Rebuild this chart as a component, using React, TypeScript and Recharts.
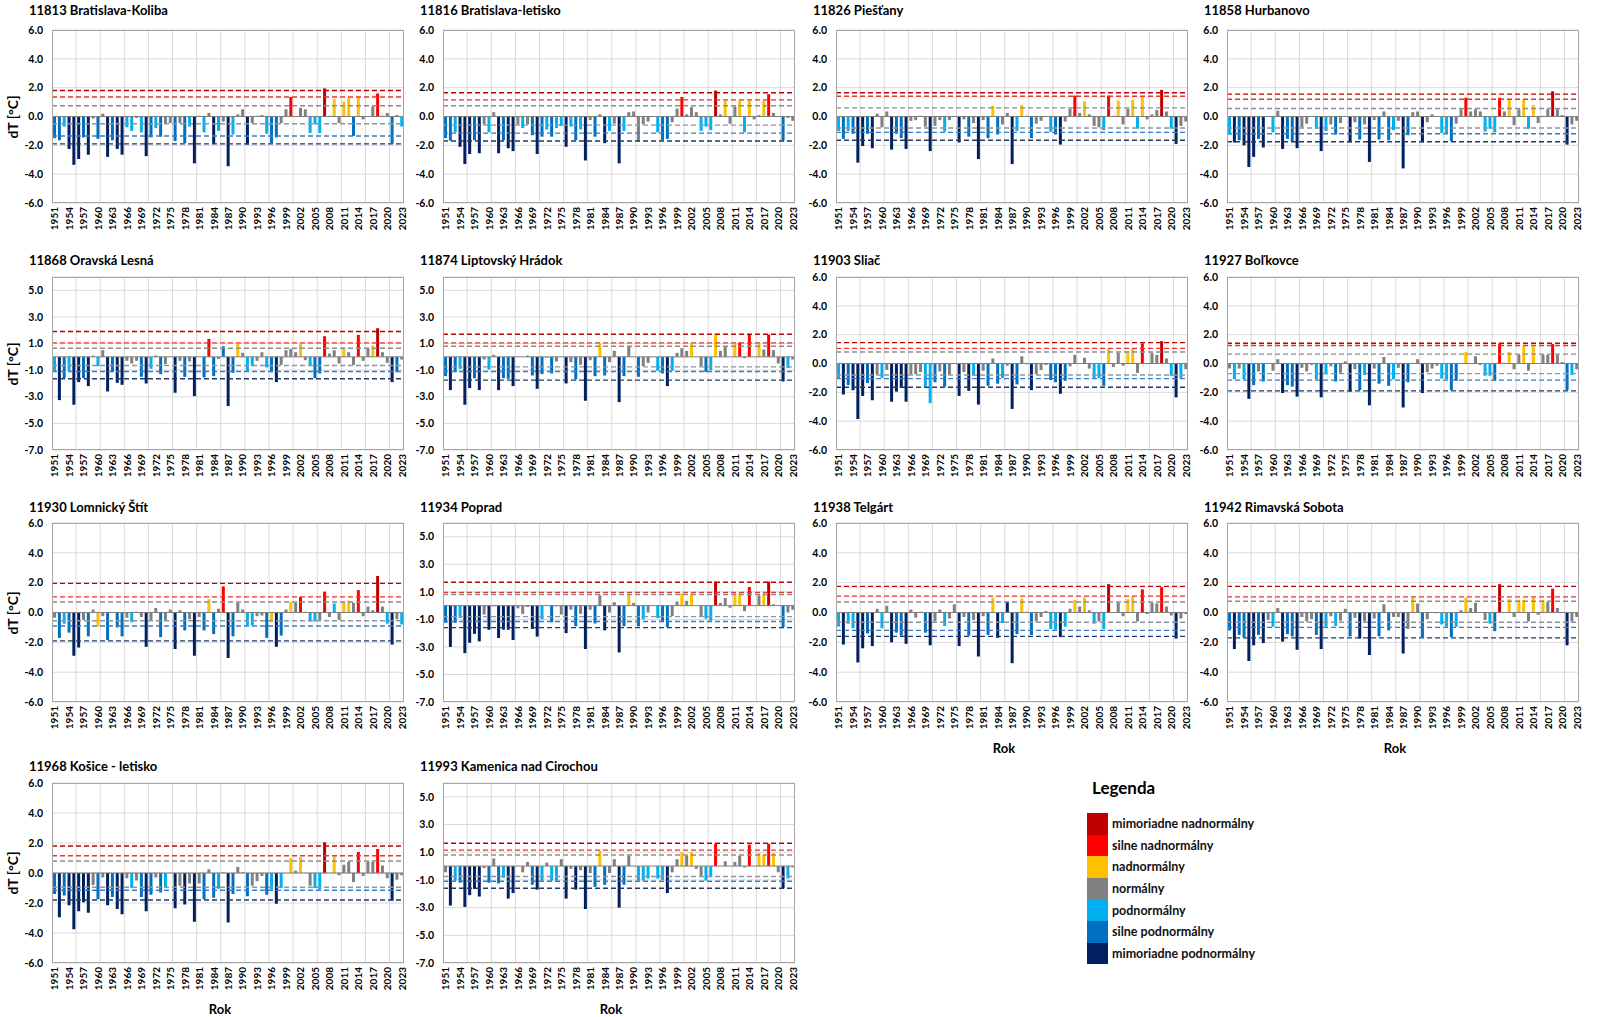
import React from "react"
import { Bar, BarChart, CartesianGrid, Cell, ReferenceLine, XAxis, YAxis } from "recharts"

const FONT = "Lato, 'Liberation Sans', sans-serif"

const years = Array.from({ length: 73 }, (_, i) => 1951 + i)
const yAxisTicks = [-6, -4, -2, 0, 2, 4, 6]
const yAxisTicksOdd = [-7, -5, -3, -1, 1, 3, 5]

type Cat = "X" | "S" | "A" | "N" | "L" | "B" | "E"

const COLORS: Record<Cat, string> = {
  X: "#c00000",
  S: "#ff0000",
  A: "#ffc000",
  N: "#808080",
  L: "#00b0f0",
  B: "#0070c0",
  E: "#002060",
}

const legendItems: { cat: Cat; label: string }[] = [
  { cat: "X", label: "mimoriadne nadnormálny" },
  { cat: "S", label: "silne nadnormálny" },
  { cat: "A", label: "nadnormálny" },
  { cat: "N", label: "normálny" },
  { cat: "L", label: "podnormálny" },
  { cat: "B", label: "silne podnormálny" },
  { cat: "E", label: "mimoriadne podnormálny" },
]

// dashed threshold line colours, top to bottom
const LINE_COLORS = ["#c00000", "#e8352b", "#8c8c8c", "#8c96a0", "#3a7cc4", "#1f3a6a"]

// values 1951..2023
const kolibaDT = [
  -1.5, -1.65, -0.7, -2.25, -3.35, -2.95, -1.45, -2.65, -0.15, -1.55,
  0.2, -2.8, -1.65, -2.25, -2.65, -0.75, -1.0, -0.1, -1.1, -2.75,
  -1.45, -0.8, -1.4, -0.45, -0.45, -1.7, -0.45, -1.85, -0.7, -3.25,
  0.05, -1.1, 0.25, -1.9, -1.0, -0.35, -3.45, -1.25, 0.15, 0.5,
  -1.95, -0.45, 0.05, 0.1, -1.2, -1.85, -1.45, -0.45, 0.5, 1.35,
  0.0, 0.6, 0.5, -1.15, -0.55, -1.15, 1.95, 0.05, 1.2, -0.45,
  1.05, 1.3, -1.35, 1.3, -0.2, 0.0, 0.7, 1.6, 0.05, 0.25,
  -1.88, 0.1, -0.7,
]
const kolibaTh = [1.8, 1.35, 0.75, -0.5, -1.35, -1.9]

const letiskoDT = [
  -1.5, -1.68, -1.1, -2.1, -3.3, -2.6, -1.65, -2.55, -0.55, -1.1,
  0.3, -2.55, -1.65, -2.2, -2.4, -0.55, -0.8, -0.55, -1.3, -2.6,
  -1.4, -0.9, -1.4, -0.8, -0.65, -2.1, -0.7, -1.65, -0.9, -3.05,
  -0.25, -1.4, 0.15, -1.85, -1.0, -0.5, -3.25, -1.0, 0.3, 0.35,
  -1.75, -0.55, -0.35, 0.0, -1.1, -1.65, -1.55, -0.4, 0.55, 1.35,
  0.15, 0.65, 0.3, -1.0, -0.7, -0.95, 1.8, 0.15, 1.1, -0.5,
  0.7, 1.1, -1.1, 1.1, -0.2, 0.1, 1.1, 1.55, 0.25, 0.0,
  -1.68, -0.1, -0.3,
]
const letiskoTh = [1.65, 1.15, 0.75, -0.6, -1.15, -1.7]

const piestanyDT = [
  -1.0, -1.55, -1.0, -1.2, -3.2, -2.05, -1.2, -2.2, 0.2, -0.75,
  0.35, -2.3, -1.2, -1.5, -2.25, -0.3, -0.25, 0.05, -0.7, -2.4,
  -0.65, -0.25, -1.05, -0.25, 0.0, -1.8, -0.2, -1.4, -0.45, -2.95,
  -0.25, -1.5, 0.75, -1.25, -0.55, 0.25, -3.3, -1.0, 0.8, 0.05,
  -1.5, -0.5, -0.3, 0.0, -1.05, -1.25, -1.95, -0.35, 0.55, 1.45,
  0.25, 1.05, 0.15, -0.65, -0.75, -0.95, 1.45, 0.05, 1.1, -0.55,
  0.55, 1.15, -0.85, 1.35, -0.2, 0.15, 0.45, 1.85, 0.35, -0.85,
  -1.9, -0.65, -0.35,
]
const piestanyTh = [1.65, 1.4, 0.6, -0.8, -1.1, -1.65]

const hurbanovoDT = [
  -1.15, -1.8, -1.65, -2.0, -3.5, -2.8, -1.55, -2.15, 0.0, -1.1,
  0.4, -2.25, -1.55, -1.7, -2.2, -0.75, -0.5, 0.0, -0.85, -2.4,
  -1.0, -0.55, -1.25, -0.45, 0.0, -1.8, -0.4, -1.6, -0.55, -3.15,
  -0.25, -1.6, 0.35, -1.65, -0.95, -0.3, -3.6, -1.3, 0.3, 0.35,
  -1.8, -0.4, 0.15, 0.0, -1.15, -1.15, -1.7, -0.5, 0.5, 1.3,
  0.35, 0.5, 0.35, -1.05, -0.85, -1.1, 1.3, 0.35, 1.15, -0.6,
  0.5, 1.15, -0.85, 0.8, -0.45, 0.05, 0.5, 1.75, 0.5, 0.1,
  -1.95, -0.55, -0.3,
]
const hurbanovoTh = [1.55, 1.2, 0.55, -0.8, -1.2, -1.75]

const oravskaDT = [
  -1.05, -3.25, -1.6, -1.05, -3.6, -1.9, -1.6, -2.2, 0.1, -0.7,
  0.5, -2.6, -1.15, -1.95, -2.1, -0.3, -0.5, -0.3, -1.5, -2.0,
  -0.9, 0.1, -1.3, -0.55, 0.0, -2.7, -0.3, -1.5, -0.35, -2.95,
  0.0, -1.55, 1.35, -1.45, -0.15, 0.8, -3.7, -1.2, 1.0, 0.3,
  -1.05, -0.7, -0.3, 0.35, -0.8, -1.15, -1.9, -0.6, 0.5, 0.6,
  0.35, 1.0, -0.25, -0.7, -1.6, -1.25, 1.55, 0.25, 0.5, -0.5,
  0.7, 0.35, -0.6, 1.65, -0.3, 0.6, 0.85, 2.15, 0.35, -0.45,
  -1.9, -1.15, -0.2,
]
const oravskaTh = [1.9, 1.05, 0.65, -0.65, -1.1, -1.65]

const liptovskyDT = [
  -1.45, -2.5, -1.15, -0.9, -3.6, -2.35, -1.6, -2.5, -0.2, -0.95,
  0.15, -2.5, -1.6, -1.65, -2.2, 0.0, 0.0, 0.1, -1.4, -2.4,
  -1.3, -0.05, -1.25, -0.35, 0.0, -2.0, -0.4, -1.7, -0.6, -3.3,
  -0.25, -1.45, 1.0, -1.4, -0.4, 0.45, -3.4, -1.45, 0.75, 0.0,
  -1.5, -0.7, -0.45, 0.0, -1.05, -1.25, -2.2, -1.05, 0.3, 0.65,
  0.45, 1.0, 0.0, -0.7, -1.15, -1.0, 1.75, 0.45, 0.75, 0.0,
  1.0, 1.08, -0.1, 1.65, 0.0, 1.0, 0.55, 1.68, 0.5, -0.5,
  -1.85, -0.85, -0.2,
]
const liptovskyTh = [1.7, 1.05, 0.8, -0.75, -1.1, -1.75]

const sliacDT = [
  -1.0, -2.15, -1.5, -1.85, -3.85, -2.25, -1.35, -2.55, -0.75, -1.0,
  -0.45, -2.65, -1.95, -1.7, -2.65, -0.75, -0.75, -0.6, -1.6, -2.75,
  -1.3, -0.55, -1.6, -0.75, 0.0, -2.25, -0.6, -1.9, -0.85, -2.85,
  -0.5, -1.55, 0.35, -1.4, -1.0, -0.15, -3.15, -1.45, 0.5, -0.05,
  -1.85, -0.75, -0.45, -0.1, -1.15, -1.3, -2.1, -1.2, -0.2, 0.6,
  0.0, 0.4, -0.35, -1.0, -1.0, -1.55, 1.0, -0.25, 0.75, -0.15,
  0.85, 1.0, -0.65, 1.4, 0.0, 0.75, 0.6, 1.55, 0.35, -0.85,
  -2.35, -1.0, -0.4,
]
const sliacTh = [1.45, 1.05, 0.8, -0.8, -1.05, -1.65]

const bolkovceDT = [
  -0.35, -1.1, -0.35, -1.1, -2.45, -1.5, -0.55, -1.25, 0.0, -0.5,
  0.3, -2.05, -1.5, -1.6, -2.3, -0.3, -0.55, -0.1, -1.1, -2.35,
  -0.75, -0.2, -1.25, -0.65, 0.15, -1.95, -0.4, -1.85, -0.8, -2.9,
  -0.35, -1.4, 0.45, -1.55, -1.1, -0.3, -3.05, -1.3, 0.0, 0.3,
  -2.05, -0.6, -0.35, -0.15, -1.05, -1.1, -1.85, -1.2, 0.0, 0.8,
  0.0, 0.5, -0.1, -0.85, -0.85, -1.2, 1.38, 0.05, 0.8, -0.4,
  0.6, 1.2, -0.5, 1.2, 0.0, 0.6, 0.6, 1.35, 0.6, 0.1,
  -1.85, -0.8, -0.4,
]
const bolkovceTh = [1.4, 1.25, 0.65, -0.7, -1.15, -1.9]

const lomnickyDT = [
  -0.35, -1.7, -0.75, -1.35, -2.9, -2.35, -0.5, -1.6, 0.2, -0.95,
  -0.25, -1.85, 0.0, -1.0, -1.6, -0.35, -0.65, 0.05, -0.3, -2.3,
  -0.5, 0.3, -1.65, -0.5, 0.2, -2.45, 0.15, -1.2, -0.45, -2.9,
  -0.3, -1.2, 0.9, -1.45, 0.25, 1.75, -3.05, -1.6, 0.65, 0.2,
  -0.85, -0.85, -0.25, -0.2, -1.7, -0.65, -2.3, -1.55, 0.2, 0.7,
  0.65, 1.05, 0.05, -0.6, -0.6, -0.5, 1.4, -0.3, 0.6, -0.5,
  0.75, 0.8, 0.65, 1.5, -0.25, 0.4, 0.15, 2.45, 0.4, -0.75,
  -2.15, -0.45, -0.8,
]
const lomnickyTh = [1.95, 1.05, 0.7, -0.55, -0.9, -1.9]

const popradDT = [
  -1.25, -3.0, -1.25, -0.9, -3.45, -2.7, -2.05, -2.6, -0.65, -1.75,
  -0.05, -2.35, -1.75, -1.75, -2.5, -0.2, -0.6, -0.1, -1.7, -2.25,
  -1.0, 0.05, -1.2, -0.05, -0.65, -2.0, -0.3, -1.5, -0.6, -3.15,
  -0.3, -1.3, 0.75, -1.8, -0.5, 0.25, -3.4, -1.5, 0.85, 0.2,
  -1.5, -1.0, -0.5, 0.0, -0.9, -1.2, -1.55, -0.75, 0.3, 0.9,
  0.35, 0.9, 0.0, -0.75, -0.95, -1.1, 1.75, 0.2, 0.55, -0.15,
  0.9, 0.9, -0.4, 1.35, 0.0, 0.75, 0.9, 1.75, 0.1, 0.0,
  -1.55, -0.5, -0.3,
]
const popradTh = [1.7, 0.95, 0.8, -0.8, -1.15, -1.6]

const telgartDT = [
  -0.95, -2.15, -0.75, -1.05, -3.35, -2.4, -1.4, -2.25, 0.25, -1.05,
  0.45, -2.0, -1.35, -1.55, -2.1, 0.2, -0.35, 0.05, -1.35, -2.2,
  -0.6, 0.2, -0.9, -0.4, 0.55, -2.25, -0.3, -1.55, -0.5, -2.95,
  -0.25, -1.5, 1.0, -1.7, -0.7, 0.75, -3.4, -1.45, 0.95, 0.05,
  -1.5, -0.6, -0.3, 0.1, -1.1, -1.15, -1.65, -0.95, 0.25, 0.85,
  0.4, 1.0, 0.15, -0.75, -0.6, -1.1, 1.9, 0.0, 0.65, -0.25,
  0.9, 1.05, -0.6, 1.55, -0.1, 0.65, 0.6, 1.7, 0.4, -0.2,
  -1.75, -0.4, -0.1,
]
const telgartTh = [1.75, 1.1, 0.7, -0.65, -1.2, -1.6]

const rimavskaDT = [
  -1.2, -2.45, -1.5, -1.65, -3.25, -2.2, -1.5, -2.05, -0.5, -0.95,
  0.3, -1.95, -1.45, -1.6, -2.5, -0.3, -0.6, -0.45, -1.5, -2.45,
  -0.95, -0.25, -0.9, -0.55, 0.25, -1.6, -0.35, -1.75, -0.6, -2.85,
  -0.4, -1.6, 0.55, -1.2, -0.3, -0.3, -2.75, -1.1, 1.0, 0.6,
  -1.65, -0.45, 0.0, -0.05, -0.8, -0.95, -1.65, -0.95, 0.15, 1.0,
  0.3, 0.65, 0.0, -0.5, -0.75, -1.25, 1.9, 0.0, 0.9, -0.3,
  0.85, 0.85, -0.6, 1.0, -0.15, 0.85, 0.7, 1.6, 0.3, 0.0,
  -2.2, -0.6, -0.3,
]
const rimavskaTh = [1.75, 1.05, 0.75, -0.65, -1.0, -1.7]

const kosiceDT = [
  -1.4, -2.95, -1.5, -2.15, -3.75, -2.55, -1.95, -2.65, -0.8, -1.75,
  -0.3, -2.15, -1.6, -2.4, -2.75, -0.35, -1.0, -0.5, -1.6, -2.55,
  -1.45, -0.3, -1.3, -1.0, 0.0, -2.35, -0.85, -2.1, -0.7, -3.25,
  -0.7, -1.75, 0.25, -1.65, -1.05, 0.05, -3.3, -1.4, 0.4, 0.05,
  -1.55, -0.85, -0.55, -0.2, -1.45, -1.1, -2.05, -1.0, 0.0, 1.0,
  0.15, 1.05, 0.0, -0.85, -1.0, -1.1, 2.05, 0.0, 1.1, -0.15,
  0.55, 0.75, -0.6, 1.4, -0.2, 0.75, 0.75, 1.6, 0.5, -0.35,
  -1.85, -0.45, -0.15,
]
const kosiceTh = [1.8, 1.15, 0.8, -0.95, -1.15, -1.8]

const kamenicaDT = [
  -0.45, -2.85, -1.05, -1.2, -2.95, -2.1, -1.65, -2.2, -0.15, -1.2,
  0.55, -1.25, -0.85, -2.35, -1.95, 0.0, -0.45, 0.3, -1.35, -1.7,
  -1.05, 0.25, -1.05, -1.05, 0.5, -2.35, -0.2, -1.7, -0.3, -3.1,
  -0.5, -1.5, 1.1, -1.35, -0.5, 0.5, -3.0, -1.35, 0.75, 0.0,
  -1.05, -1.05, -0.9, 0.0, -0.9, -1.0, -1.95, -0.45, 0.5, 1.0,
  0.75, 1.0, -0.2, -0.7, -1.05, -0.8, 1.6, 0.0, 0.35, 0.0,
  0.3, 0.75, -0.1, 1.55, 0.0, 0.95, 0.85, 1.62, 0.95, -0.45,
  -1.6, -0.9, -0.1,
]
const kamenicaTh = [1.65, 1.15, 0.8, -0.75, -1.1, -1.6]

type Station = {
  title: string
  values: number[]
  th: number[]
  odd?: boolean
  overrides?: Record<number, Cat>
}

const stations: Station[] = [
  { title: "11813 Bratislava-Koliba", values: kolibaDT, th: kolibaTh },
  { title: "11816 Bratislava-letisko", values: letiskoDT, th: letiskoTh, overrides: { 1991: "N" } },
  { title: "11826 Piešťany", values: piestanyDT, th: piestanyTh },
  { title: "11858 Hurbanovo", values: hurbanovoDT, th: hurbanovoTh },
  { title: "11868 Oravská Lesná", values: oravskaDT, th: oravskaTh, odd: true, overrides: { 1986: "B" } },
  { title: "11874 Liptovský Hrádok", values: liptovskyDT, th: liptovskyTh, odd: true, overrides: { 2007: "A" } },
  { title: "11903 Sliač", values: sliacDT, th: sliacTh, overrides: { 1969: "L", 1970: "L" } },
  { title: "11927 Boľkovce", values: bolkovceDT, th: bolkovceTh },
  { title: "11930 Lomnický Štít", values: lomnickyDT, th: lomnickyTh, overrides: { 1960: "A", 1996: "A", 2009: "L" } },
  { title: "11934 Poprad", values: popradDT, th: popradTh, odd: true },
  { title: "11938 Telgárt", values: telgartDT, th: telgartTh, overrides: { 1986: "E" } },
  { title: "11942 Rimavská Sobota", values: rimavskaDT, th: rimavskaTh, overrides: { 1988: "N" } },
  { title: "11968 Košice - letisko", values: kosiceDT, th: kosiceTh },
  { title: "11993 Kamenica nad Cirochou", values: kamenicaDT, th: kamenicaTh, odd: true },
]

function classify(v: number, th: number[]): Cat {
  if (v >= th[0]) return "X"
  if (v >= th[1]) return "S"
  if (v >= th[2]) return "A"
  if (v > th[3]) return "N"
  if (v > th[4]) return "L"
  if (v > th[5]) return "B"
  return "E"
}

// layout
const COL_LEFT = [52, 443, 836, 1227]
const ROWS = [
  { titleY: 10, top: 30, h: 173 },
  { titleY: 260, top: 277, h: 173 },
  { titleY: 507, top: 523, h: 179 },
  { titleY: 766, top: 783, h: 180 },
]
const PLOT_W = 352
const Y_W = 46
const M_TOP = 8
const X_H = 34
const gridSteps = Array.from({ length: 14 }, (_, i) => (i + 1) * 5)

function YearTick({ x, y, payload }: any) {
  return (
    <text
      x={x}
      y={y}
      transform={`rotate(-90 ${x} ${y})`}
      textAnchor="end"
      dominantBaseline="central"
      fontSize={10}
      fontWeight="bold"
      fontFamily={FONT}
      fill="#000"
    >
      {payload.value}
    </text>
  )
}

function Panel({ st, left, row, yLabel, xLabel }: { st: Station; left: number; row: (typeof ROWS)[number]; yLabel?: boolean; xLabel?: boolean }) {
  const data = years.map((year, i) => {
    const v = st.values[i]
    return { year, v, cat: st.overrides?.[year] ?? classify(v, st.th) }
  })
  const h = row.h
  return (
    <>
      <div style={{ position: "absolute", left: left - 23, top: row.titleY - 9, fontFamily: FONT, fontWeight: "bold", fontSize: 13, whiteSpace: "nowrap", lineHeight: "18px" }}>
        {st.title}
      </div>
      <div style={{ position: "absolute", left: left - Y_W, top: row.top - M_TOP }}>
        <BarChart
          width={Y_W + PLOT_W + 6}
          height={M_TOP + h + X_H}
          data={data}
          margin={{ top: M_TOP, right: 6, bottom: 0, left: 0 }}
          barCategoryGap="22%"
        >
          <CartesianGrid
            stroke="#d9d9d9"
            verticalCoordinatesGenerator={() => gridSteps.map((k) => Y_W + (k * PLOT_W) / years.length)}
          />
          <XAxis dataKey="year" interval={2} tickLine={false} axisLine={false} height={X_H} tickSize={2} tickMargin={2} tick={<YearTick />} />
          <YAxis
            domain={st.odd ? [-7, 6] : [-6, 6]}
            ticks={st.odd ? yAxisTicksOdd : yAxisTicks}
            interval={0}
            width={Y_W}
            allowDataOverflow
            tickLine={false}
            axisLine={false}
            tickSize={6}
            tickMargin={3}
            tickFormatter={(v: number) => v.toFixed(1)}
            tick={{ fontSize: 10.5, fontWeight: "bold", fill: "#000", fontFamily: FONT }}
          />
          <ReferenceLine y={0} stroke="#7f7f7f" />
          <Bar dataKey="v" isAnimationActive={false}>
            {data.map((d) => (
              <Cell key={d.year} fill={COLORS[d.cat]} />
            ))}
          </Bar>
          {st.th.map((t, i) => (
            <ReferenceLine key={i} y={t} stroke={LINE_COLORS[i]} strokeDasharray="5 3" strokeWidth={1.4} />
          ))}
        </BarChart>
      </div>
      <div style={{ position: "absolute", left, top: row.top, width: PLOT_W, height: h, border: "1px solid #a6a6a6", boxSizing: "border-box", pointerEvents: "none" }} />
      {yLabel && (
        <div style={{ position: "absolute", left: 13 - 40, top: row.top + h / 2 - 9, width: 80, textAlign: "center", transform: "rotate(-90deg)", fontFamily: FONT, fontWeight: "bold", fontSize: 14, lineHeight: "18px" }}>
          dT [°C]
        </div>
      )}
      {xLabel && (
        <div style={{ position: "absolute", left: left + PLOT_W / 2 - 50 - 8, top: row.top + h + X_H + 4, width: 100, textAlign: "center", fontFamily: FONT, fontWeight: "bold", fontSize: 13, lineHeight: "16px" }}>
          Rok
        </div>
      )}
    </>
  )
}

function Legend() {
  return (
    <div style={{ position: "absolute", left: 1087, top: 776, fontFamily: FONT }}>
      <div style={{ fontWeight: "bold", fontSize: 17, marginLeft: 5, lineHeight: "24px" }}>Legenda</div>
      <div style={{ marginTop: 13 }}>
        {legendItems.map((it) => (
          <div key={it.cat} style={{ display: "flex", alignItems: "center", height: 21.6 }}>
            <div style={{ width: 21, height: 21.6, background: COLORS[it.cat] }} />
            <div style={{ marginLeft: 4, fontSize: 12.5, fontWeight: "bold", color: "#111" }}>{it.label}</div>
          </div>
        ))}
      </div>
    </div>
  )
}

export default function App() {
  return (
    <div style={{ position: "absolute", left: 0, top: 0, width: 1600, height: 1017, background: "#fff", overflow: "hidden" }}>
      {stations.map((st, i) => {
        const r = Math.floor(i / 4)
        const c = i % 4
        const bottom = (r === 2 && c >= 2) || r === 3
        return <Panel key={st.title} st={st} left={COL_LEFT[c]} row={ROWS[r]} yLabel={c === 0} xLabel={bottom} />
      })}
      <Legend />
    </div>
  )
}
